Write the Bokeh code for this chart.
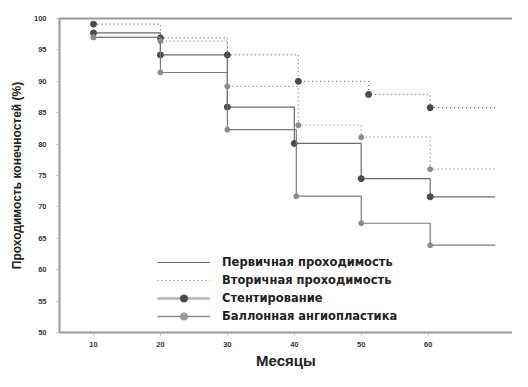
from bokeh.plotting import figure
from bokeh.models import Range1d, FixedTicker, LinearAxis, Legend, LegendItem, ColumnDataSource
from bokeh.embed import file_html
from bokeh.resources import INLINE

# ---- data ----
end_month = 70
stent_primary_months = [10, 20, 30, 40, 50, 60.3]
stent_primary = [97.7, 94.2, 85.9, 80.1, 74.5, 71.6]
stent_secondary_months = [10, 20, 30, 40.6, 51.1, 60.3]
stent_secondary = [99.1, 96.9, 94.2, 90.0, 87.9, 85.8]
balloon_primary_months = [10, 20, 30, 40.3, 50, 60.3]
balloon_primary = [97.0, 91.4, 82.3, 71.7, 67.4, 63.9]
balloon_secondary_months = [10, 20, 30, 40.6, 50, 60.3]
balloon_secondary = [97.0, 96.4, 89.2, 83.0, 81.1, 76.0]

x_ticks = [10, 20, 30, 40, 50, 60]
y_ticks = [50, 55, 60, 65, 70, 75, 80, 85, 90, 95, 100]

labels = ["Первичная проходимость", "Вторичная проходимость",
          "Стентирование", "Баллонная ангиопластика"]
x_title = "Месяцы"
y_title = "Проходимость конечностей (%)"

FONT = "Liberation Sans"
AXIS = "#9a9a9a"
DOT = "1 3"

p = figure(width=512, height=371, x_range=Range1d(4.92, 72.6), y_range=Range1d(50, 100),
           output_backend="svg", toolbar_location=None,
           min_border_left=59, min_border_right=0, min_border_top=18, min_border_bottom=39)
p.outline_line_color = None
p.xgrid.visible = False
p.ygrid.visible = False
p.background_fill_color = "white"

def steps(months, vals):
    return months + [end_month], vals + [vals[-1]]

curves = [
    (stent_primary_months, stent_primary, "solid", "#6a6a6a", "#4a4a4a", 6),
    (stent_secondary_months, stent_secondary, DOT, "#6a6a6a", "#4a4a4a", 6),
    (balloon_primary_months, balloon_primary, "solid", "#7a7a7a", "#8c8c8c", 5),
    (balloon_secondary_months, balloon_secondary, DOT, "#7a7a7a", "#8c8c8c", 5),
]
for months, vals, dash, lc, mc, sz in curves:
    xs, ys = steps(months, vals)
    p.step(xs, ys, mode="after", line_color=lc, line_width=1.2, line_dash=dash)
    p.scatter(months, vals, size=sz, marker="circle", fill_color=mc, line_color=mc)

# dummy renderers for legend glyphs
dummy = ColumnDataSource(dict(x=[-100], y=[-100]))
r_prim = p.line("x", "y", source=dummy, line_color="#6a6a6a", line_width=1.2)
r_sec = p.line("x", "y", source=dummy, line_color="#7a7a7a", line_width=1.2, line_dash=DOT)
r_st_l = p.line("x", "y", source=dummy, line_color="#b5b5b5", line_width=2.5)
r_st_m = p.scatter("x", "y", source=dummy, marker="circle", fill_color="#4a4a4a", line_color="#4a4a4a")
r_ba_l = p.line("x", "y", source=dummy, line_color="#8a8a8a", line_width=1.5)
r_ba_m = p.scatter("x", "y", source=dummy, marker="circle", fill_color="#9a9a9a", line_color="#9a9a9a")

legend = Legend(items=[
    LegendItem(label=labels[0], renderers=[r_prim]),
    LegendItem(label=labels[1], renderers=[r_sec]),
    LegendItem(label=labels[2], renderers=[r_st_l, r_st_m]),
    LegendItem(label=labels[3], renderers=[r_ba_l, r_ba_m]),
], location=(98, 7))
legend.background_fill_alpha = 0
legend.border_line_color = None
legend.padding = 0
legend.margin = 0
legend.spacing = 0
legend.glyph_width = 53
legend.glyph_height = 18
legend.label_height = 18
legend.label_standoff = 12
legend.label_text_font = "DejaVu Sans"
legend.label_text_font_style = "bold"
legend.label_text_font_size = "11.5px"
legend.label_text_color = "#222222"
p.add_layout(legend, "center")

# axes
xa = p.xaxis[0]
xa.ticker = FixedTicker(ticks=x_ticks)
xa.axis_label = x_title
ya = p.yaxis[0]
ya.ticker = FixedTicker(ticks=y_ticks)
ya.axis_label = y_title
for ax in (xa, ya):
    ax.axis_line_color = AXIS
    ax.axis_line_width = 2
    ax.major_tick_line_color = "#bbbbbb"
    ax.major_tick_out = 3
    ax.major_tick_in = 0
    ax.minor_tick_line_color = None
    ax.major_label_text_font = FONT
    ax.major_label_text_font_style = "bold"
    ax.major_label_text_font_size = "7.5px"
    ax.major_label_text_color = "#333333"
    ax.axis_label_text_font = FONT
    ax.axis_label_text_font_style = "bold"
    ax.axis_label_text_color = "#222222"
xa.major_label_standoff = 6
xa.axis_label_standoff = 2
xa.axis_label_text_font_size = "15px"
ya.major_label_standoff = 10
ya.axis_label_standoff = 7
ya.axis_label_text_font_size = "12px"

top = LinearAxis(ticker=FixedTicker(ticks=[]), axis_line_color=AXIS, axis_line_width=2,
                 major_tick_line_color=None, minor_tick_line_color=None,
                 major_label_text_font_size="0px")
p.add_layout(top, "above")

open("out.html", "w").write(file_html(p, INLINE))
